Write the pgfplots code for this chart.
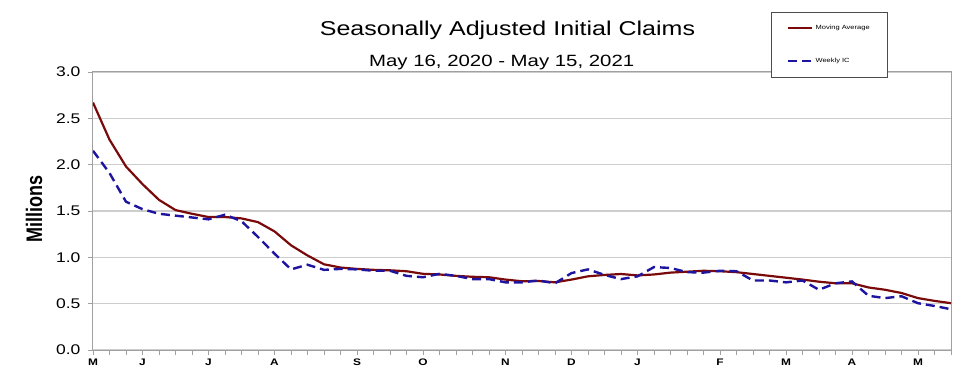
\documentclass[border=0pt]{standalone}
\usepackage{graphicx}
\usepackage{pgfplots}
\pgfplotsset{compat=1.18}
\usepackage{fontspec}
\setmainfont{Liberation Sans}
\newcommand\sx[1]{\scalebox{1.25}[1]{#1}}
\definecolor{ma}{RGB}{122,10,10}
\definecolor{wk}{RGB}{30,20,160}
\definecolor{gridc}{RGB}{205,205,205}
\definecolor{axc}{RGB}{160,160,160}
\begin{document}
\begin{tikzpicture}
\path[use as bounding box] (-93pt,-30pt) rectangle (887pt,350pt);
\node[font=\fontsize{20}{24}\selectfont, anchor=base, inner sep=0pt] at (414.5pt,314pt) {\sx{Seasonally Adjusted Initial Claims}};
\node[font=\fontsize{16.3}{20}\selectfont, anchor=base, inner sep=0pt] at (408.7pt,283.3pt) {\sx{May 16, 2020 - May 15, 2021}};
\begin{axis}[
  scale only axis, width=858pt, height=278pt,
  xmin=0, xmax=52, ymin=0, ymax=3,
  axis line style={axc, line width=1pt},
  ytick={0,0.5,1,1.5,2,2.5,3},
  yticklabels={\sx{0.0},\sx{0.5},\sx{1.0},\sx{1.5},\sx{2.0},\sx{2.5},\sx{3.0}},
  yticklabel style={font=\fontsize{14}{16}\selectfont, xshift=-4pt},
  ymajorgrids, grid style={gridc, line width=1.2pt},
  xtick={0,3,7,11,16,20,25,29,33,38,42,46,50},
  xticklabels={\sx{M},\sx{J},\sx{J},\sx{A},\sx{S},\sx{O},\sx{N},\sx{D},\sx{J},\sx{F},\sx{M},\sx{A},\sx{M}},
  minor xtick={0,1,...,52},
  xticklabel style={font=\bfseries\fontsize{9.5}{11}\selectfont},
  tick align=outside, major tick length=5pt, minor tick length=5pt,
  tick style={axc, line width=0.8pt},
  xtick pos=bottom, ytick pos=left,
  ylabel={\scalebox{1}[1.25]{Millions}},
  every axis y label/.style={at={(axis description cs:-0.0688,0.507)}, rotate=90, anchor=center, font=\bfseries\fontsize{18}{22}\selectfont},
  legend style={at={(0.790,1.2158)}, anchor=north west, draw=black!70, line width=0.8pt, fill=white,
    font=\fontsize{6}{7}\selectfont, inner xsep=16pt, inner ysep=11pt, row sep=23pt},
  legend cell align=left,
  legend image code/.code={\draw[#1] (0pt,0pt) -- (24pt,0pt);},
]
\addplot[ma, line width=2.2pt] coordinates {
(0,2.67) (1,2.27) (2,1.98) (3,1.79) (4,1.62) (5,1.51) (6,1.47) (7,1.435) (8,1.435) (9,1.42)
(10,1.38) (11,1.28) (12,1.13) (13,1.02) (14,0.925) (15,0.89) (16,0.875) (17,0.865) (18,0.86) (19,0.85)
(20,0.822) (21,0.815) (22,0.80) (23,0.79) (24,0.785) (25,0.76) (26,0.742) (27,0.745) (28,0.73) (29,0.76)
(30,0.795) (31,0.81) (32,0.82) (33,0.805) (34,0.815) (35,0.835) (36,0.845) (37,0.855) (38,0.85) (39,0.84)
(40,0.82) (41,0.80) (42,0.78) (43,0.76) (44,0.737) (45,0.72) (46,0.72) (47,0.675) (48,0.65) (49,0.615)
(50,0.56) (51,0.53) (52,0.505)};
\addlegendentry{\sx{Moving Average}}
\addplot[wk, line width=2.4pt, dash pattern=on 9pt off 5pt] coordinates {
(0,2.15) (1,1.91) (2,1.60) (3,1.52) (4,1.47) (5,1.45) (6,1.43) (7,1.41) (8,1.46) (9,1.39)
(10,1.22) (11,1.04) (12,0.87) (13,0.92) (14,0.865) (15,0.875) (16,0.87) (17,0.855) (18,0.855) (19,0.80)
(20,0.785) (21,0.822) (22,0.80) (23,0.765) (24,0.765) (25,0.73) (26,0.73) (27,0.75) (28,0.72) (29,0.83)
(30,0.87) (31,0.81) (32,0.765) (33,0.795) (34,0.895) (35,0.885) (36,0.84) (37,0.835) (38,0.855) (39,0.85)
(40,0.75) (41,0.75) (42,0.73) (43,0.75) (44,0.65) (45,0.72) (46,0.74) (47,0.585) (48,0.56) (49,0.58)
(50,0.505) (51,0.475) (52,0.44)};
\addlegendentry{\sx{Weekly IC}}
\end{axis}
\end{tikzpicture}
\end{document}
